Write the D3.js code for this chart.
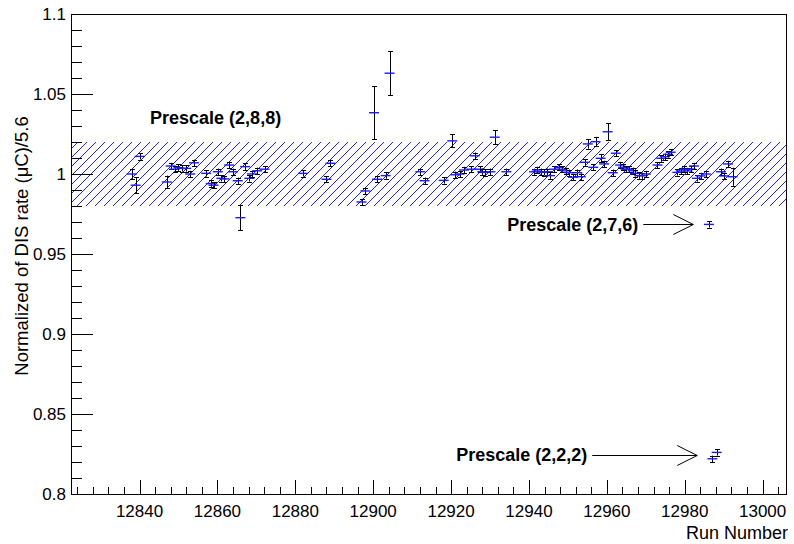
<!DOCTYPE html>
<html>
<head>
<meta charset="utf-8">
<script src="https://cdn.jsdelivr.net/npm/d3@7"></script>
<style>
  body { margin: 0; background: #fff; }
  svg { display: block; font-family: "Liberation Sans", Arial, sans-serif; }
</style>
</head>
<body>
<svg id="chart" width="794" height="544"></svg>
<script>
// run numbers, normalized DIS rate and its error
var runNumbers = [
  12838.0, 12839.0, 12840.0, 12847.0, 12848.0, 12849.0, 12850.0, 12851.0, 12852.0, 12853.0,
  12854.0, 12857.1, 12858.3, 12859.0, 12860.1, 12861.0, 12861.8, 12863.0, 12864.0, 12865.2,
  12865.9, 12867.1, 12868.2, 12868.9, 12870.2, 12872.1, 12882.0, 12888.0, 12889.0, 12897.0,
  12898.0, 12900.2, 12901.0, 12903.2, 12904.2, 12912.1, 12913.2, 12918.1, 12920.3, 12921.1,
  12922.2, 12923.3, 12925.2, 12926.1, 12927.4, 12928.0, 12928.8, 12930.1, 12931.2, 12934.2,
  12941.3, 12942.1, 12943.0, 12943.8, 12944.7, 12945.4, 12946.4, 12947.7, 12948.6, 12949.4,
  12950.3, 12951.3, 12952.4, 12953.3, 12954.3, 12955.1, 12956.5, 12957.1, 12958.4, 12959.3,
  12960.2, 12961.5, 12962.3, 12963.4, 12964.2, 12964.8, 12965.7, 12966.6, 12967.2, 12968.3,
  12969.1, 12970.0, 12973.0, 12974.0, 12974.9, 12975.7, 12976.4, 12978.1, 12979.0, 12979.8,
  12980.7, 12981.5, 12982.4, 12983.1, 12984.1, 12985.4, 12986.2, 12987.1, 12988.2, 12989.3,
  12990.1, 12991.1, 12992.3
];
var disRate = [
  1.000, 0.993, 1.011, 0.995, 1.005, 1.003, 1.004, 1.0035, 1.0035, 1.000,
  1.007, 1.0004, 0.994, 0.993, 1.0014, 0.9973, 0.9969, 1.0056, 1.0014, 0.9958,
  0.9727, 1.0046, 0.9973, 1.000, 1.002, 1.003, 1.0004, 0.9967, 1.0067, 0.9825,
  0.9894, 1.0383, 0.9967, 0.999, 1.063, 1.0014, 0.9958, 0.996, 1.0207, 0.9995,
  1.000, 1.0025, 1.003, 1.0114, 1.003, 1.0014, 1.001, 1.0014, 1.023, 1.0014,
  1.0014, 1.0025, 1.0014, 1.001, 1.0014, 0.999, 1.003, 1.0042, 1.003, 1.002,
  1.0008, 0.998, 1.0008, 0.9983, 1.0073, 1.0188, 1.0042, 1.0202, 1.0098, 1.0063,
  1.0264, 1.0008, 1.013, 1.0056, 1.0042, 1.003, 1.003, 1.002, 1.0004, 0.999,
  0.9989, 1.000, 1.0056, 1.0098, 1.0108, 1.0123, 1.0136, 1.001, 1.0019, 1.003,
  1.0019, 1.0031, 1.005, 0.9973, 0.9988, 1.000, 0.9685, 0.822, 0.826, 1.0014,
  0.9988, 1.0063, 0.9983
];
var disRateErr = [
  0.003, 0.005, 0.002, 0.004, 0.002, 0.002, 0.002, 0.002, 0.002, 0.002,
  0.002, 0.002, 0.002, 0.002, 0.002, 0.002, 0.002, 0.002, 0.002, 0.002,
  0.008, 0.002, 0.002, 0.002, 0.002, 0.002, 0.002, 0.002, 0.002, 0.002,
  0.002, 0.0167, 0.002, 0.002, 0.0136, 0.002, 0.002, 0.002, 0.004, 0.002,
  0.002, 0.002, 0.002, 0.002, 0.002, 0.002, 0.002, 0.002, 0.0042, 0.002,
  0.002, 0.002, 0.002, 0.002, 0.002, 0.002, 0.002, 0.002, 0.002, 0.002,
  0.002, 0.002, 0.002, 0.002, 0.002, 0.003, 0.002, 0.003, 0.0025, 0.002,
  0.0052, 0.002, 0.002, 0.002, 0.002, 0.002, 0.002, 0.002, 0.002, 0.002,
  0.002, 0.002, 0.002, 0.002, 0.002, 0.002, 0.002, 0.002, 0.002, 0.002,
  0.002, 0.002, 0.002, 0.002, 0.002, 0.002, 0.002, 0.002, 0.002, 0.002,
  0.002, 0.002, 0.0057
];

// +/- 2% band
var bandLow = 0.98, bandHigh = 1.02;

var xMajorTicks = [12840, 12860, 12880, 12900, 12920, 12940, 12960, 12980, 13000];
var yMajorTicks = [0.8, 0.85, 0.9, 0.95, 1, 1.05, 1.1];

var annotations = [
  {label: "Prescale (2,8,8)", run: 12842.7, value: 1.0355, arrowTo: null},
  {label: "Prescale (2,7,6)", run: 12934.4, value: 0.9685, arrowTo: 12982.2},
  {label: "Prescale (2,2,2)", run: 12921.3, value: 0.8245, arrowTo: 12983.2}
];

var svg = d3.select("#chart"),
    margin = {top: 14, right: 8, bottom: 50, left: 71},
    width = 794 - margin.left - margin.right,
    height = 544 - margin.top - margin.bottom,
    g = svg.append("g").attr("transform", "translate(" + margin.left + "," + margin.top + ")");

var x = d3.scaleLinear().domain([12822.4, 13006]).range([0, width]);
var y = d3.scaleLinear().domain([0.8, 1.1]).range([height, 0]);

var data = runNumbers.map(function(r, i) {
  return {run: r, value: disRate[i], err: disRateErr[i]};
});

// hatch pattern like ROOT fill style 3004
var defs = svg.append("defs");
var hatch = defs.append("pattern")
    .attr("id", "hatch")
    .attr("patternUnits", "userSpaceOnUse")
    .attr("width", 9)
    .attr("height", 9);
hatch.append("path")
    .attr("d", "M-2,2L2,-2M0,9L9,0M7,11L11,7")
    .attr("stroke", "#1f1fff")
    .attr("stroke-width", 1);

g.append("rect")
    .attr("x", 0)
    .attr("width", width)
    .attr("y", y(bandHigh))
    .attr("height", y(bandLow) - y(bandHigh))
    .attr("fill", "url(#hatch)");

// axes, ROOT style: ticks inside frame
var xAxis = g.append("g").attr("transform", "translate(0," + height + ")");
xAxis.selectAll(".minor")
  .data(d3.range(12824, 13006, 4))
  .enter().append("line")
    .attr("x1", function(d) { return Math.round(x(d)) + 0.5 })
    .attr("x2", function(d) { return Math.round(x(d)) + 0.5 })
    .attr("y1", 0)
    .attr("y2", function(d) { return xMajorTicks.indexOf(d) >= 0 ? -14 : -7 })
    .attr("stroke", "#000");
xAxis.selectAll(".lab")
  .data(xMajorTicks)
  .enter().append("text")
    .attr("x", function(d) { return x(d) })
    .attr("y", 23)
    .attr("text-anchor", "middle")
    .attr("font-size", 17)
    .text(function(d) { return d });

var yAxis = g.append("g");
yAxis.selectAll(".minor")
  .data(d3.range(80, 111, 1).map(function(d) { return d / 100 }))
  .enter().append("line")
    .attr("y1", function(d) { return Math.round(y(d)) + 0.5 })
    .attr("y2", function(d) { return Math.round(y(d)) + 0.5 })
    .attr("x1", 0)
    .attr("x2", function(d, i) { return i % 5 == 0 ? 22 : 11 })
    .attr("stroke", "#000");
yAxis.selectAll(".lab")
  .data(yMajorTicks)
  .enter().append("text")
    .attr("x", -5)
    .attr("y", function(d) { return y(d) })
    .attr("dy", "0.36em")
    .attr("text-anchor", "end")
    .attr("font-size", 17)
    .text(function(d) { return d3.format("")(d) });

// frame
g.append("rect")
    .attr("x", 0.5).attr("y", 0.5)
    .attr("width", width).attr("height", height)
    .attr("fill", "none")
    .attr("stroke", "#000");

svg.append("text")
    .attr("x", 794 - margin.right + 2)
    .attr("y", 539)
    .attr("text-anchor", "end")
    .attr("font-size", 18)
    .text("Run Number");

svg.append("text")
    .attr("transform", "translate(28," + (margin.top + height / 2 - 8) + ") rotate(-90)")
    .attr("text-anchor", "middle")
    .attr("font-size", 18.5)
    .text("Normalized of DIS rate (\u03bcC)/5.6");

// error bars
var pts = g.selectAll(".pt").data(data).enter().append("g").attr("class", "pt");
pts.append("line")
    .attr("x1", function(d) { return Math.round(x(d.run)) + 0.5 })
    .attr("x2", function(d) { return Math.round(x(d.run)) + 0.5 })
    .attr("y1", function(d) { return y(d.value + d.err) })
    .attr("y2", function(d) { return y(d.value - d.err) })
    .attr("stroke", "#000");
[1, -1].forEach(function(s) {
  pts.append("line")
      .attr("x1", function(d) { return Math.round(x(d.run)) - 2 })
      .attr("x2", function(d) { return Math.round(x(d.run)) + 3 })
      .attr("y1", function(d) { return Math.round(y(d.value + s * d.err)) + 0.5 })
      .attr("y2", function(d) { return Math.round(y(d.value + s * d.err)) + 0.5 })
      .attr("stroke", "#000");
});
// blue markers
pts.append("line")
    .attr("x1", function(d) { return x(d.run) - 5 })
    .attr("x2", function(d) { return x(d.run) + 5 })
    .attr("y1", function(d) { return y(d.value) })
    .attr("y2", function(d) { return y(d.value) })
    .attr("stroke", "#1a1aff")
    .attr("stroke-width", 1.4);

// annotations
annotations.forEach(function(a) {
  var t = g.append("text")
      .attr("x", x(a.run))
      .attr("y", y(a.value))
      .attr("dy", "0.35em")
      .attr("font-size", 18)
      .attr("font-weight", "bold")
      .text(a.label);
  if (a.arrowTo !== null) {
    var w = t.node().getComputedTextLength();
    var x0 = x(a.run) + w + 5, x1 = x(a.arrowTo), yy = Math.round(y(a.value)) + 0.5;
    g.append("path")
        .attr("d", "M" + x0 + "," + yy + "L" + x1 + "," + yy +
                   "M" + (x1 - 20) + "," + (yy - 10) + "L" + x1 + "," + yy + "L" + (x1 - 20) + "," + (yy + 10))
        .attr("fill", "none")
        .attr("stroke", "#000");
  }
});
</script>
</body>
</html>
